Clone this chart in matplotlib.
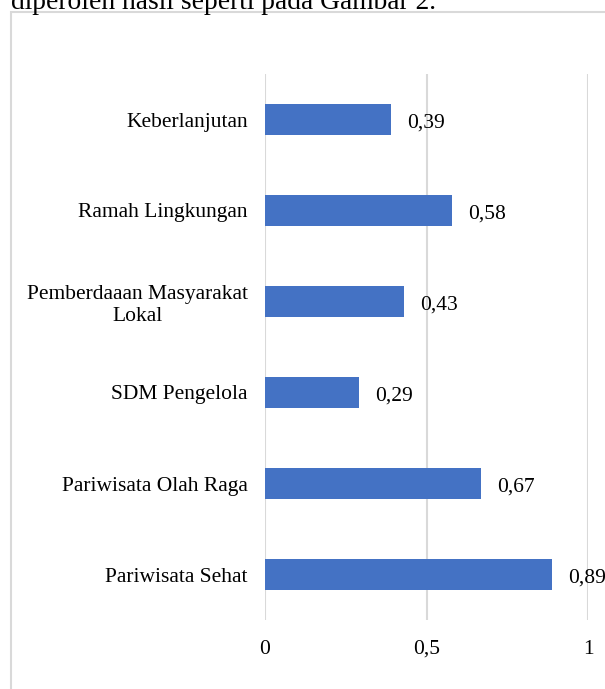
import matplotlib
matplotlib.use("Agg")
import matplotlib.pyplot as plt
from matplotlib.patches import Rectangle

# data, top to bottom as shown in the picture
categories = [
    "Keberlanjutan",
    "Ramah Lingkungan",
    "Pemberdaaan Masyarakat\nLokal",
    "SDM Pengelola",
    "Pariwisata Olah Raga",
    "Pariwisata Sehat",
]
values = [0.39, 0.58, 0.43, 0.29, 0.67, 0.89]
x_ticks = [0, 0.5, 1]
x_tick_labels = ["0", "0,5", "1"]

BAR_COLOR = "#4472C4"
GRID_COLOR = "#D9D9D9"
FS = 15.5

plt.rcParams["font.family"] = ["Liberation Serif", "DejaVu Serif"]

fig = plt.figure(figsize=(6.05, 6.89), dpi=100)
ax = fig.add_axes([265 / 605, 1 - 620 / 689, (588 - 265) / 605, (620 - 74) / 689])

pos = list(range(len(categories)))
ax.barh(pos, values, height=0.35, color=BAR_COLOR, zorder=3)
ax.set_ylim(len(categories) - 0.5, -0.5)
ax.set_xlim(0, 1)

for p, v in zip(pos, values):
    ax.annotate(f"{v:.2f}".replace(".", ","), (v, p), xytext=(11.5, -1),
                textcoords="offset points", va="center_baseline", ha="left",
                fontsize=FS)

ax.set_yticks(pos)
ax.set_yticklabels(categories, fontsize=FS, multialignment="center",
                   va="center_baseline")
ax.tick_params(axis="y", length=0, pad=12.5)
ax.set_xticks(x_ticks)
ax.set_xticklabels(x_tick_labels, fontsize=FS, va="baseline")
ax.tick_params(axis="x", length=0, pad=24.5)
ax.grid(axis="x", color=GRID_COLOR, linewidth=1.5, zorder=0)
for s in ax.spines.values():
    s.set_visible(False)

# chart border and the clipped line of body text above it
fig.patches.append(Rectangle((11 / 605, -0.1), 1.2, 1 - 12 / 689 + 0.1,
                             transform=fig.transFigure, fill=False,
                             edgecolor=GRID_COLOR, linewidth=1.5))
fig.text(11 / 605, 1 - 9 / 689, "diperoleh hasil seperti pada Gambar 2.",
         fontsize=19.8, va="baseline", ha="left")

fig.savefig("out.png", dpi=100)
